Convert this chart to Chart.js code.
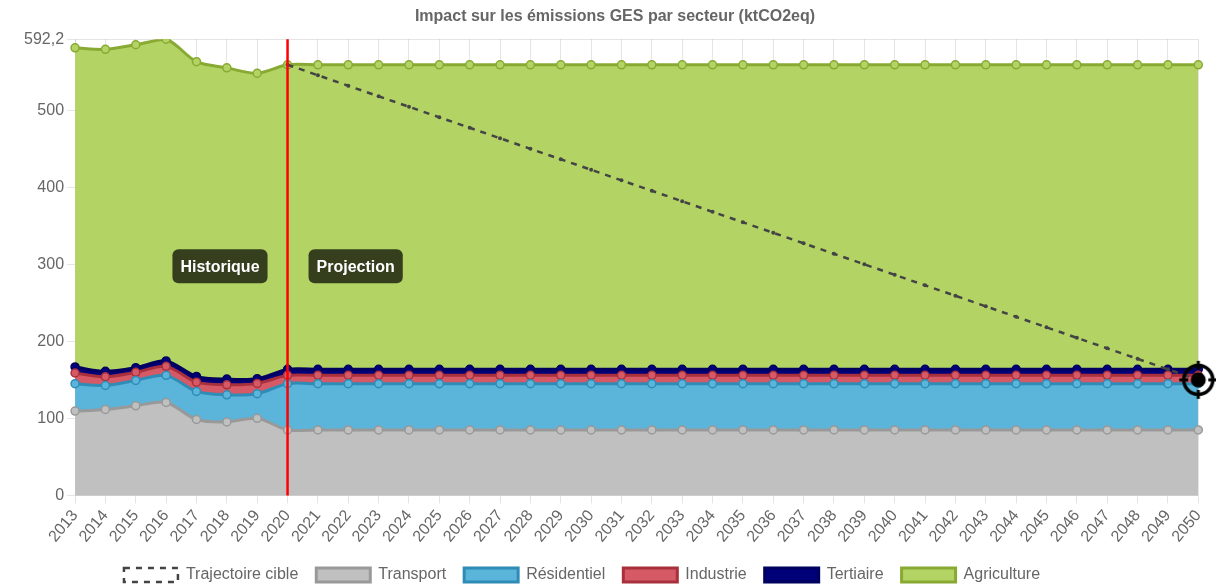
<!DOCTYPE html>
<html>
<head>
<meta charset="utf-8">
<script src="https://cdn.jsdelivr.net/npm/chart.js@4"></script>
<style>
    html, body { margin: 0; padding: 0; background: #fff; }
    #wrap { width: 1216px; height: 585px; }
</style>
</head>
<body>
<div id="wrap"><canvas id="gesChart"></canvas></div>
<script>
// Categories
const years = ['2013','2014','2015','2016','2017','2018','2019','2020','2021','2022','2023','2024','2025',
    '2026','2027','2028','2029','2030','2031','2032','2033','2034','2035','2036','2037','2038','2039',
    '2040','2041','2042','2043','2044','2045','2046','2047','2048','2049','2050'];

// Series (ktCO2eq), stacked
const transport = [109.4, 111.6, 116.3, 120.7, 98.5, 95.4, 100, 85, 85, 85, 85, 85, 85, 85, 85, 85, 85, 85,
    85, 85, 85, 85, 85, 85, 85, 85, 85, 85, 85, 85, 85, 85, 85, 85, 85, 85, 85, 85];
const residentiel = [35.6, 31.2, 33, 35.1, 36.5, 35.2, 32, 60, 60, 60, 60, 60, 60, 60, 60, 60, 60, 60,
    60, 60, 60, 60, 60, 60, 60, 60, 60, 60, 60, 60, 60, 60, 60, 60, 60, 60, 60, 60];
const industrie = [13.9, 11.2, 10.4, 11.7, 12, 13, 13.4, 10.8, 10.8, 10.8, 10.8, 10.8, 10.8, 10.8, 10.8,
    10.8, 10.8, 10.8, 10.8, 10.8, 10.8, 10.8, 10.8, 10.8, 10.8, 10.8, 10.8, 10.8, 10.8, 10.8, 10.8, 10.8,
    10.8, 10.8, 10.8, 10.8, 10.8, 10.8];
const tertiaire = [7.8, 7, 6.1, 7, 7.5, 7.4, 6.1, 7.8, 7.8, 7.8, 7.8, 7.8, 7.8, 7.8, 7.8, 7.8, 7.8, 7.8,
    7.8, 7.8, 7.8, 7.8, 7.8, 7.8, 7.8, 7.8, 7.8, 7.8, 7.8, 7.8, 7.8, 7.8, 7.8, 7.8, 7.8, 7.8, 7.8, 7.8];
const agriculture = [414.3, 418, 419.2, 417.7, 408.5, 404, 396.5, 395.4, 395.4, 395.4, 395.4, 395.4, 395.4,
    395.4, 395.4, 395.4, 395.4, 395.4, 395.4, 395.4, 395.4, 395.4, 395.4, 395.4, 395.4, 395.4, 395.4,
    395.4, 395.4, 395.4, 395.4, 395.4, 395.4, 395.4, 395.4, 395.4, 395.4, 395.4];

// Target trajectory (starts in 2020)
const trajectoire = [null, null, null, null, null, null, null, 559, 545.4, 531.7, 518.1, 504.5, 490.8,
    477.2, 463.6, 449.9, 436.3, 422.7, 409, 395.4, 381.8, 368.1, 354.5, 340.9, 327.2, 313.6, 300,
    286.3, 272.7, 259.1, 245.4, 231.8, 218.2, 204.5, 190.9, 177.3, 163.6, 150];

// Y ticks
const yTicks = [0, 100, 200, 300, 400, 500, 592.2];
const yMax = 592.2;

// Period labels
const splitYear = '2020';
const periodLabels = ['Historique', 'Projection'];

// Target icon for the last trajectory point
function makeTargetIcon() {
    const c = document.createElement('canvas');
    c.width = 40;
    c.height = 40;
    const g = c.getContext('2d');
    g.strokeStyle = '#000';
    g.fillStyle = '#000';
    g.lineWidth = 3.5;
    g.beginPath();
    g.arc(20, 20, 14.5, 0, Math.PI * 2);
    g.stroke();
    g.beginPath();
    g.arc(20, 20, 7.5, 0, Math.PI * 2);
    g.fill();
    g.lineWidth = 3;
    g.beginPath();
    g.moveTo(20, 1); g.lineTo(20, 10);
    g.moveTo(20, 30); g.lineTo(20, 39);
    g.moveTo(1, 20); g.lineTo(10, 20);
    g.moveTo(30, 20); g.lineTo(39, 20);
    g.stroke();
    return c;
}

const targetIcon = makeTargetIcon();
const trajPointStyles = trajectoire.map((v, i) => i === trajectoire.length - 1 ? targetIcon : 'circle');

// Red separator + period badges
const periodPlugin = {
    id: 'periodPlugin',
    afterLayout(chart) {
        // legend sits a bit left of centre in the original
        chart.legend.left -= 33;
        chart.legend.right -= 33;
    },
    afterDatasetsDraw(chart) {
        const { ctx, chartArea, scales } = chart;
        const x = scales.x.getPixelForValue(years.indexOf(splitYear));
        ctx.save();
        ctx.strokeStyle = '#ff0000';
        ctx.lineWidth = 2.5;
        ctx.beginPath();
        ctx.moveTo(x, chartArea.top);
        ctx.lineTo(x, chartArea.bottom);
        ctx.stroke();

        const midY = (chartArea.top + chartArea.bottom) / 2 - 1;
        ctx.font = 'bold 16px "Liberation Sans", Arial, sans-serif';
        ctx.textBaseline = 'middle';
        ctx.textAlign = 'center';
        periodLabels.forEach((txt, i) => {
            const w = ctx.measureText(txt).width + 16;
            const h = 34;
            const bx = i === 0 ? x - 20 - w : x + 21;
            ctx.fillStyle = 'rgba(0,0,0,0.7)';
            ctx.beginPath();
            ctx.roundRect(bx, midY - h / 2, w, h, 6);
            ctx.fill();
            ctx.fillStyle = '#fff';
            ctx.fillText(txt, bx + w / 2, midY + 1);
        });
        ctx.restore();
    }
};

function areaSet(label, data, fillColor, lineColor, fill) {
    return {
        label: label,
        data: data,
        stack: 'ges',
        fill: fill,
        backgroundColor: fillColor,
        borderColor: lineColor,
        borderWidth: 3,
        pointRadius: 4,
        pointBorderWidth: 1.5,
        pointBackgroundColor: fillColor,
        pointBorderColor: lineColor,
        tension: 0.3
    };
}

Chart.defaults.font.family = '"Liberation Sans", Arial, sans-serif';
Chart.defaults.color = '#666';

const ctx = document.getElementById('gesChart').getContext('2d');
new Chart(ctx, {
    type: 'line',
    data: {
        labels: years,
        datasets: [
            {
                label: 'Trajectoire cible',
                data: trajectoire,
                stack: 'target',
                fill: false,
                clip: false,
                backgroundColor: 'rgba(255,255,255,0)',
                borderColor: '#444',
                borderWidth: 2.5,
                borderDash: [6, 6],
                pointRadius: 2,
                pointBorderWidth: 0,
                pointBackgroundColor: '#444',
                pointStyle: trajPointStyles,
                tension: 0
            },
            areaSet('Transport', transport, '#c0c0c0', '#999999', 'origin'),
            areaSet('Résidentiel', residentiel, '#5bb4da', '#2f8cb6', '-1'),
            areaSet('Industrie', industrie, '#d55a66', '#a8303c', '-1'),
            areaSet('Tertiaire', tertiaire, '#000078', '#00005e', '-1'),
            areaSet('Agriculture', agriculture, '#b3d465', '#88aa33', '-1')
        ]
    },
    options: {
        responsive: true,
        maintainAspectRatio: false,
        animation: false,
        layout: { padding: { left: 21, right: 7, top: 0, bottom: -8 } },
        plugins: {
            title: {
                display: true,
                text: 'Impact sur les émissions GES par secteur (ktCO2eq)',
                font: { size: 16, weight: 'bold' },
                color: '#666',
                padding: { top: 7, bottom: 13 }
            },
            legend: {
                position: 'bottom',
                labels: {
                    boxWidth: 54,
                    boxHeight: 14,
                    font: { size: 16 },
                    color: '#666',
                    padding: 18
                }
            },
            tooltip: { enabled: false }
        },
        scales: {
            x: {
                stacked: true,
                offset: false,
                grid: { color: 'rgba(0,0,0,0.1)' },
                ticks: {
                    font: { size: 16 },
                    color: '#666',
                    minRotation: 50,
                    maxRotation: 50,
                    autoSkip: false
                }
            },
            y: {
                stacked: true,
                min: 0,
                max: yMax,
                grid: { color: 'rgba(0,0,0,0.1)' },
                afterBuildTicks(axis) {
                    axis.ticks = yTicks.map(v => ({ value: v }));
                },
                ticks: {
                    font: { size: 16 },
                    color: '#666',
                    callback: v => String(v).replace('.', ',')
                }
            }
        }
    },
    plugins: [periodPlugin]
});
</script>
</body>
</html>
